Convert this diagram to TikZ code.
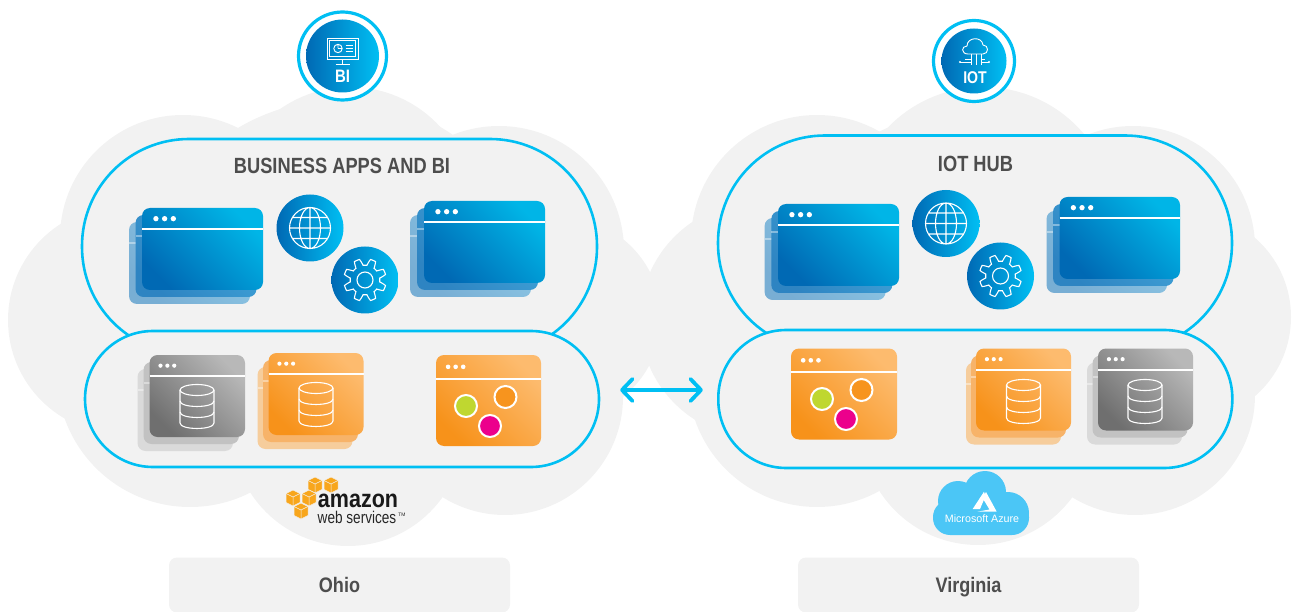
\documentclass[tikz,border=0pt]{standalone}
\usepackage{fontspec}
\setmainfont{Liberation Sans}
\newfontfamily\narrowfont[FakeStretch=0.83]{Liberation Sans}
\newfontfamily\regionfont[FakeStretch=0.86]{Liberation Sans}
\usepackage{tikz}
\usetikzlibrary{arrows.meta}
\definecolor{sky}{HTML}{00BFF3}
\definecolor{deep}{HTML}{0069B4}
\definecolor{mist}{HTML}{F2F2F2}
\definecolor{ink}{HTML}{4D4D4D}
\definecolor{azure}{HTML}{4BC6F6}
\definecolor{cube}{HTML}{F8A61C}
\definecolor{winhalf}{HTML}{0085C8}
\definecolor{winmidA}{HTML}{2E84C2}
\definecolor{winmidB}{HTML}{42A6DA}
\definecolor{winbackA}{HTML}{78AED4}
\definecolor{winbackB}{HTML}{90C9E6}
\definecolor{greyA}{HTML}{6F6F6F}
\definecolor{greyB}{HTML}{8F8F8F}
\definecolor{greyC}{HTML}{B8B8B8}
\definecolor{greyD}{HTML}{C2C2C2}
\definecolor{greyE}{HTML}{DADADA}
\definecolor{amberA}{HTML}{F7921A}
\definecolor{amberB}{HTML}{F8A23A}
\definecolor{amberC}{HTML}{FDBB6E}
\definecolor{amberD}{HTML}{F7B369}
\definecolor{amberE}{HTML}{F6CD9C}
\tikzset{
  pill/.style={draw=sky, line width=2.6pt, fill=mist, inner sep=0pt},
  disc/.style={circle, inner sep=0pt, left color=deep, right color=sky},
  ring/.style={circle, draw=sky, line width=3.2pt, fill=white, inner sep=0pt},
  region/.style={fill=mist, rounded corners=8pt, inner sep=0pt, minimum width=341pt, minimum height=55pt, text=ink, text height=15pt, text depth=0pt},
  title/.style={text=ink, font=\narrowfont\bfseries\fontsize{22}{22}\selectfont},
  winface/.style={left color=deep, middle color=winhalf, right color=sky!95!black, shading angle=135},
  winmid/.style={left color=winmidA, right color=winmidB, shading angle=135},
  winback/.style={left color=winbackA, right color=winbackB, shading angle=135},
  greyface/.style={left color=greyA, middle color=greyB, right color=greyC, shading angle=135},
  greymid/.style={fill=greyD},
  greyback/.style={fill=greyE},
  amberface/.style={left color=amberA, middle color=amberB, right color=amberC, shading angle=135},
  ambermid/.style={fill=amberD},
  amberback/.style={fill=amberE},
  icon/.style={draw=white, line width=1.1pt},
  fineicon/.style={draw=white, line width=0.9pt},
  spot/.style={circle, draw=white, line width=2pt, minimum size=22pt, inner sep=0pt},
}
\newcommand{\winpane}[6]{
  \path[#5, rounded corners=8pt] (#1,#2) rectangle ++(#3,#4);
  \draw[white, line width=2.3pt, opacity=#6] (#1,{#2+#4*0.26}) -- ++(#3,0);
}
\newcommand{\winfront}[5]{
  \winpane{#1}{#2}{#3}{#4}{#5}{1}
  \foreach \dotn in {0,1,2}
    \fill[white] ({#1+#3*0.115+\dotn*#3*0.072},{#2+#4*0.13}) circle ({#3*0.022});
}
\newcommand{\appstack}[6]{
  \winpane{#1-2*#5}{#2+14}{#3}{#4}{#6back}{0.4}
  \winpane{#1-#5}{#2+7}{#3}{#4}{#6mid}{0.4}
  \winfront{#1}{#2}{#3}{#4}{#6face}
}
\newcommand{\dbicon}[2]{
  \begin{scope}[shift={(#1,#2)}]
    \draw[icon] (0,0) ellipse (17 and 5.5);
    \draw[icon] (-17,0) -- (-17,33) .. controls (-17,40.3) and (17,40.3) .. (17,33) -- (17,0);
    \foreach \ringy in {11,22}
      \draw[icon] (-17,\ringy) .. controls (-17,\ringy+7.3) and (17,\ringy+7.3) .. (17,\ringy);
  \end{scope}
}
\newcommand{\globeicon}[2]{
  \begin{scope}[shift={(#1,#2)}]
    \draw[icon] (0,0) circle (20.5) (0,0) ellipse (10.5 and 20.5) (0,-20.5) -- (0,20.5) (-20.5,0) -- (20.5,0)
      (-17.5,-10.5) -- (17.5,-10.5) (-17.5,10.5) -- (17.5,10.5);
  \end{scope}
}
\newcommand{\gearicon}[2]{
  \begin{scope}[shift={(#1,#2)}]
    \draw[icon] plot[domain=0:360, samples=145, smooth] ({\x+22.5}:{18+3.2*max(-1,min(1,2*cos(8*\x)))}) -- cycle;
    \draw[icon] (0,0) circle (8);
  \end{scope}
}
\newcommand{\awscube}[2]{
  \begin{scope}[shift={(#1,#2)}]
    \filldraw[fill=cube, draw=mist, line width=0.5pt] (0,-8) -- (7,-4.5) -- (7,4.5) -- (0,8) -- (-7,4.5) -- (-7,-4.5) -- cycle;
    \draw[mist, line width=0.5pt] (-7,-4.5) -- (0,-1) -- (7,-4.5) (0,-1) -- (0,8);
  \end{scope}
}
\begin{document}
\begin{tikzpicture}[x=1pt, y=-1pt]
  \useasboundingbox (0,0) rectangle (1293,612);
  \foreach \cx/\cy/\cr in {350/209/122, 183/238/123, 122/320/114, 190/374/133, 348/430/116, 505/397/118, 560/318/101, 499/251/125, 340/300/200,
    983/219/132, 817/241/126, 758/320/118, 817/378/129, 978/428/117, 1135/395/120, 1186/317/105, 1133/248/122, 970/310/200}
    \fill[mist] (\cx,\cy) circle (\cr);
  \node (regionL) [region] at (339.5,585) {\regionfont\bfseries\fontsize{21}{21}\selectfont Ohio};
  \node (regionR) [region] at (968.5,585) {\regionfont\bfseries\fontsize{21}{21}\selectfont Virginia};

  \node (appsL) [pill, rounded corners=107pt, minimum width=515pt, minimum height=215pt] at (339.5,246.5) {};
  \node (dataL) [pill, rounded corners=68pt, minimum width=514pt, minimum height=136pt] at (342,399) {};
  \node (appsR) [pill, rounded corners=107pt, minimum width=514pt, minimum height=215pt] at (975,243) {};
  \node (dataR) [pill, rounded corners=68pt, minimum width=514pt, minimum height=138pt] at (975.3,399) {};
  \node (titleL) [title] at (342,165.5) {BUSINESS APPS AND BI};
  \node (titleR) [title] at (975.5,164) {IOT HUB};

  \appstack{142}{208}{121}{82}{6.5}{win}
  \appstack{424}{201}{121}{82}{7}{win}
  \appstack{149.5}{355}{95.5}{82}{6}{grey}
  \appstack{268.5}{353}{95}{82}{5.5}{amber}
  \winfront{436}{355}{105}{91}{amberface}
  \appstack{778}{204}{121}{82}{6.7}{win}
  \appstack{1059.5}{197}{120.5}{82}{6.5}{win}
  \winfront{791}{348.5}{106}{91}{amberface}
  \appstack{976}{348.5}{95}{82}{5}{amber}
  \appstack{1098}{348.5}{95}{82}{5.5}{grey}
  \dbicon{197}{390}
  \dbicon{316}{388}
  \dbicon{1023.5}{385}
  \dbicon{1145}{385}
  \foreach \spotname/\sx/\sy/\scol in {limeL/466/406/BFD730, roseL/490/426/EC008C, ochreL/505.5/397/F7941E, limeR/822/399/BFD730, roseR/846/419/EC008C, ochreR/861.5/390/F7941E} {
    \definecolor{spotfill}{HTML}{\scol}
    \node (\spotname) [spot, fill=spotfill] at (\sx,\sy) {};
  }

  \node (globeL) [disc, minimum size=67pt] at (310,228) {};
  \node (gearL) [disc, minimum size=67pt] at (365,280) {};
  \node (globeR) [disc, minimum size=67pt] at (946,223.5) {};
  \node (gearR) [disc, minimum size=67pt] at (1000.5,276) {};
  \globeicon{310}{228}
  \gearicon{365}{280}
  \globeicon{946}{223.5}
  \gearicon{1000.5}{276}

  \node (ringL) [ring, minimum size=88pt] at (342.5,56) {};
  \node (badgeL) [disc, minimum size=73pt] at (342.5,56) {};
  \node (ringR) [ring, minimum size=81pt] at (974,61) {};
  \node (badgeR) [disc, minimum size=65pt] at (974,61) {};
  \node (labelBI) [text=white, font=\narrowfont\bfseries\fontsize{18}{18}\selectfont] at (342.5,76) {BI};
  \node (labelIOT) [text=white, font=\narrowfont\bfseries\fontsize{17}{17}\selectfont] at (975,78) {IOT};
  \begin{scope}[shift={(342.5,56)}]
    \draw[fineicon] (-15.5,-18) rectangle (15.5,3) (-13,-15.5) rectangle (13,0.5) (0,3) -- (0,8) (-7,8) -- (7,8);
    \draw[fineicon] (-4.5,-7.5) circle (4.2) (-4.5,-7.5) -- (-4.5,-11.7) (-4.5,-7.5) -- (-0.8,-7.5);
    \draw[fineicon] (3,-11) -- (10.5,-11) (3,-8) -- (10.5,-8) (3,-5) -- (10.5,-5);
  \end{scope}
  \begin{scope}[shift={(975,48)}]
    \draw[fineicon] (-7,6) .. controls (-14,6) and (-14,-2) .. (-8,-2) .. controls (-8,-11) and (7,-12) .. (8,-3) .. controls (14,-3) and (14,6) .. (8,6) -- cycle;
    \draw[fineicon] (-4,6) -- (-4,17) (1,6) -- (1,17) (6,6) -- (6,17);
    \draw[fineicon] (-15,14) -- (-4,14) (6,14) -- (14,14) (-10,11) -- (-4,11) (6,11) -- (10,11);
    \fill[white] (-15,14) circle (1.2) (14,14) circle (1.2);
  \end{scope}

  \coordinate (linkL) at (622,390);
  \coordinate (linkR) at (701,390);
  \draw[sky, line width=3.8pt, line cap=round, line join=round] (linkL) -- (linkR)
    (linkL) ++(10.5,-11) -- (linkL) -- ++(10.5,11)
    (linkR) ++(-10.5,-11) -- (linkR) -- ++(-10.5,11);

  \foreach \cubex/\cubey in {315/485, 331/485, 293/498, 309/498, 301/511}
    \awscube{\cubex}{\cubey};
  \node (amazon) [inner sep=0pt, font=\fontsize{25}{25}\selectfont\bfseries, xscale=0.86, text=black!90] at (358,500.5) {amazon};
  \node (webservices) [inner sep=0pt, font=\fontsize{17}{17}\selectfont, xscale=0.8, text=black!85] at (357,517.5) {web services};
  \node (trademark) [inner sep=0pt, font=\fontsize{5}{5}\selectfont, text=black!85] at (402,515) {TM};

  \fill[azure] (985,492) circle (21) (958,501) circle (20) (1008,513) circle (21);
  \fill[azure, rounded corners=17pt] (933,500) rectangle (1029,535);
  \fill[white] (984,491.7) -- (972.7,509) -- (980,509) -- (985.5,496) -- cycle;
  \fill[white] (986,492) -- (996.7,511.7) -- (977.3,511.7) -- (989.5,509.5) -- (982.5,498) -- cycle;
  \node (azurename) [inner sep=0pt, text=white, font=\fontsize{10.7}{11}\selectfont] at (982,519) {Microsoft Azure};
\end{tikzpicture}
\end{document}
